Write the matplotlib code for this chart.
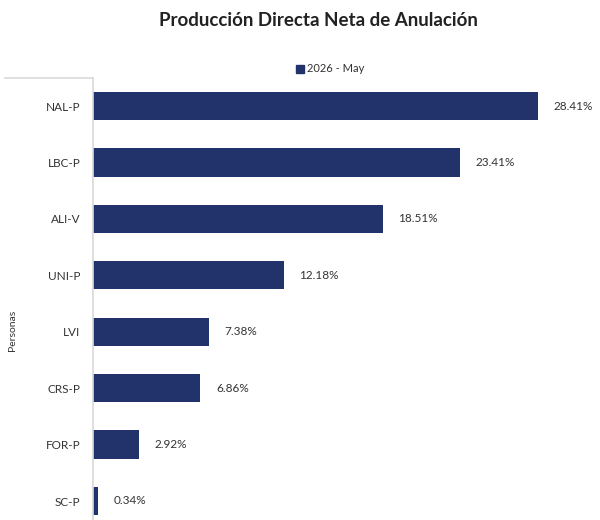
import matplotlib.pyplot as plt
from matplotlib.lines import Line2D
from matplotlib.patches import Patch

plt.rcParams['font.family'] = ['Lato', 'DejaVu Sans']

# data
companias = ["NAL-P", "LBC-P", "ALI-V", "UNI-P", "LVI", "CRS-P", "FOR-P", "SC-P"]
porcentajes = [28.41, 23.41, 18.51, 12.18, 7.38, 6.86, 2.92, 0.34]
serie = "2026 - May"
grupo = "Personas"
titulo = "Producción Directa Neta de Anulación"

color_barra = "#22336b"
color_linea = "#d9d9d9"

W, H = 600, 520
fig = plt.figure(figsize=(6, 5.2), dpi=100)

# axes in pixel geometry: left 93, top 78, rows of ~56.4 px
x0, top, row = 93, 78, 56.4
bottom = top + row * len(companias)
right = 590
ax = fig.add_axes([x0 / W, 1 - bottom / H, (right - x0) / W, (bottom - top) / H])

y = list(range(len(companias)))
ax.barh(y, porcentajes, height=0.5, color=color_barra)
ax.set_ylim(len(companias) - 0.5, -0.5)
ax.set_xlim(0, (right - x0) / 15.66)

ax.set_yticks(y)
ax.set_yticklabels(companias, fontsize=8.5, color="#333333")
ax.tick_params(axis="y", length=0, pad=9)
ax.set_xticks([])
for s in ["top", "right", "bottom"]:
    ax.spines[s].set_visible(False)
ax.spines["left"].set_color(color_linea)
ax.spines["left"].set_linewidth(1.2)

for yi, v in zip(y, porcentajes):
    ax.text(v + 1.0, yi, f"{v:.2f}%", va="center", ha="left", fontsize=8.5, color="#333333")

# group bracket line and label
fig.add_artist(Line2D([5 / W, x0 / W], [1 - top / H, 1 - top / H], color=color_linea, lw=1.2))
fig.text(12 / W, 1 - 330 / H, grupo, rotation=90, va="center", ha="center", fontsize=7.5, color="#333333")

fig.text(318 / W, 1 - 20 / H, titulo, ha="center", va="center", fontsize=13.5, fontweight="bold", color="#222222")

fig.legend(handles=[Patch(color=color_barra, label=serie)], loc="center",
           bbox_to_anchor=(330 / W, 1 - 69 / H), frameon=False, fontsize=8,
           handlelength=0.7, handleheight=0.7, handletextpad=0.3, labelcolor="#333333")

fig.savefig("out.png", dpi=100)
